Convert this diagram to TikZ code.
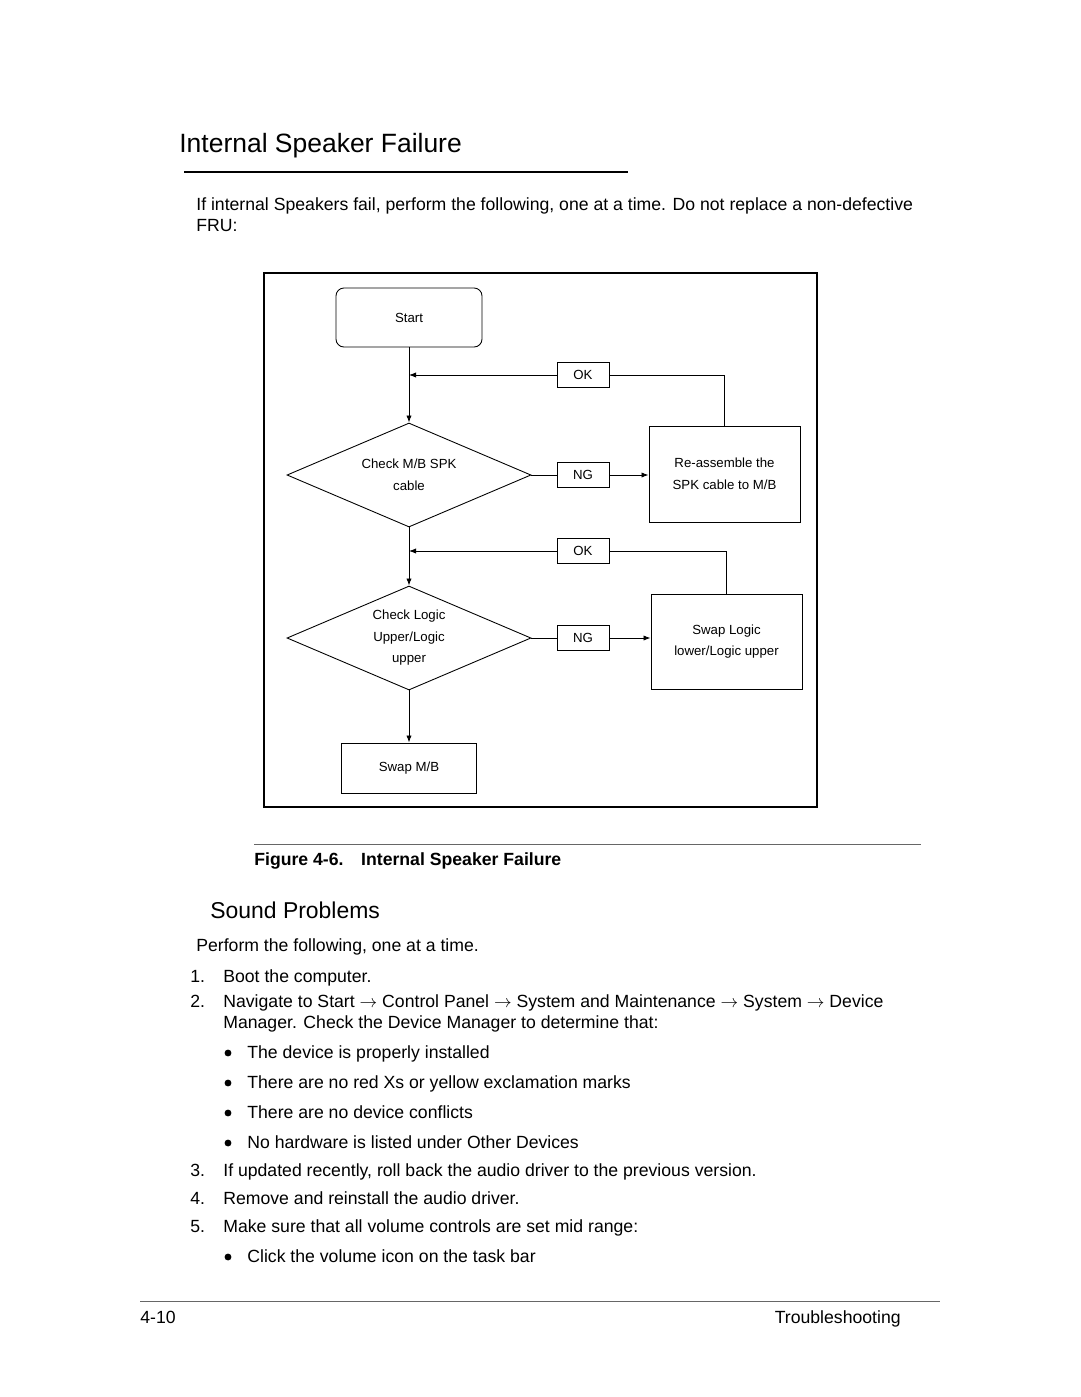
\documentclass[tikz,border=0pt]{standalone}
\usepackage{fontspec}
\setmainfont{Liberation Sans}
\usetikzlibrary{shapes.geometric,arrows.meta}
\newcommand\pxu{0.5667pt}

\begin{document}
\begin{tikzpicture}[x=0.5667pt,y=-0.5667pt,
    flow/.style={draw,line width=0.5pt,inner sep=0pt,align=center,
      font=\fontsize{7.5}{12.2}\selectfont},
    test/.style={flow,diamond,aspect=2.35,minimum width=244*\pxu,minimum height=104*\pxu},
    tag/.style={flow,minimum width=52*\pxu,minimum height=25*\pxu},
    link/.style={line width=0.5pt},
    go/.style={link,-{Latex[length=4pt,width=3pt]}},
    txt/.style={anchor=base west,inner sep=0pt,align=left,
      font=\fontsize{10}{11.9}\selectfont},
    dot/.style={circle,fill,inner sep=0pt,minimum size=3.9pt}]
  \useasboundingbox (0,0) rectangle (1080,1397);

  % heading
  \node[txt,font=\fontsize{15}{18}\selectfont] (title) at (179,152) {Internal Speaker Failure};
  \draw[line width=1.1pt] (184,172) -- (628,172);
  \node[txt] (intro) at (196,231) {If internal Speakers fail, perform the following, one at a time. Do not replace a non-defective\\FRU:};

  % flowchart
  \draw[line width=1.2pt] (264,273) rectangle (817,807);
  \node[flow,rounded corners=4.5pt,minimum width=146*\pxu,minimum height=59*\pxu] (start) at (409,317.5) {Start};
  \node[tag] (ok1) at (583,375) {OK};
  \node[test] (chk1) at (409,475) {Check M/B SPK\\cable};
  \node[tag] (ng1) at (583,475) {NG};
  \node[flow,minimum width=151*\pxu,minimum height=96*\pxu] (reasm) at (724.5,474) {Re-assemble the\\SPK cable to M/B};
  \node[tag] (ok2) at (583,551) {OK};
  \node[test] (chk2) at (409,638) {Check Logic\\Upper/Logic\\upper};
  \node[tag] (ng2) at (583,638) {NG};
  \node[flow,minimum width=151*\pxu,minimum height=95*\pxu] (swlogic) at (726.5,641.5) {Swap Logic\\lower/Logic upper};
  \node[flow,minimum width=135*\pxu,minimum height=50*\pxu] (swmb) at (409,768) {Swap M/B};

  \draw[go] (start) -- (chk1);
  \draw[go] (ok1.west) -- (ok1.west -| start.south);
  \draw[link] (ok1.east) -| (reasm.north);
  \draw[link] (chk1.east) -- (ng1.west);
  \draw[go] (ng1.east) -- (ng1.east -| reasm.west);
  \draw[go] (chk1) -- (chk2);
  \draw[go] (ok2.west) -- (ok2.west -| chk1.south);
  \draw[link] (ok2.east) -| (swlogic.north);
  \draw[link] (chk2.east) -- (ng2.west);
  \draw[go] (ng2.east) -- (ng2.east -| swlogic.west);
  \draw[go] (chk2) -- (swmb);

  % caption
  \draw[line width=0.5pt,black!60] (254,844) -- (921,844);
  \node[txt,font=\fontsize{10}{12}\selectfont\bfseries] (cap) at (254,865) {Figure 4-6.\hspace{1em}Internal Speaker Failure};

  % sound problems
  \node[txt,font=\fontsize{13}{16}\selectfont] (sound) at (210,918) {Sound Problems};
  \node[txt] (perform) at (196,951) {Perform the following, one at a time.};
  \foreach \n/\y in {1/982,2/1007,3/1176,4/1204,5/1232}
    \node[txt] (num\n) at (190,\y) {\n.};
  \node[txt] (step1) at (223,982) {Boot the computer.};
  \node[txt] (step2) at (223,1028) {Navigate to Start $\rightarrow$ Control Panel $\rightarrow$ System and Maintenance $\rightarrow$ System $\rightarrow$ Device\\Manager. Check the Device Manager to determine that:};
  \node[txt] (step3) at (223,1176) {If updated recently, roll back the audio driver to the previous version.};
  \node[txt] (step4) at (223,1204) {Remove and reinstall the audio driver.};
  \node[txt] (step5) at (223,1232) {Make sure that all volume controls are set mid range:};
  \foreach \t/\y [count=\i] in {The device is properly installed/1058,
      There are no red Xs or yellow exclamation marks/1088,
      There are no device conflicts/1118,
      No hardware is listed under Other Devices/1148,
      Click the volume icon on the task bar/1262} {
    \node[dot] (dot\i) at (228,\y-5) {};
    \node[txt] (item\i) at (247,\y) {\t};
  }

  % footer
  \draw[line width=0.5pt,black!60] (140,1301) -- (940,1301);
  \node[txt] (page) at (140,1323) {4-10};
  \node[txt,anchor=base east] (chap) at (901,1323) {Troubleshooting};
\end{tikzpicture}
\end{document}
